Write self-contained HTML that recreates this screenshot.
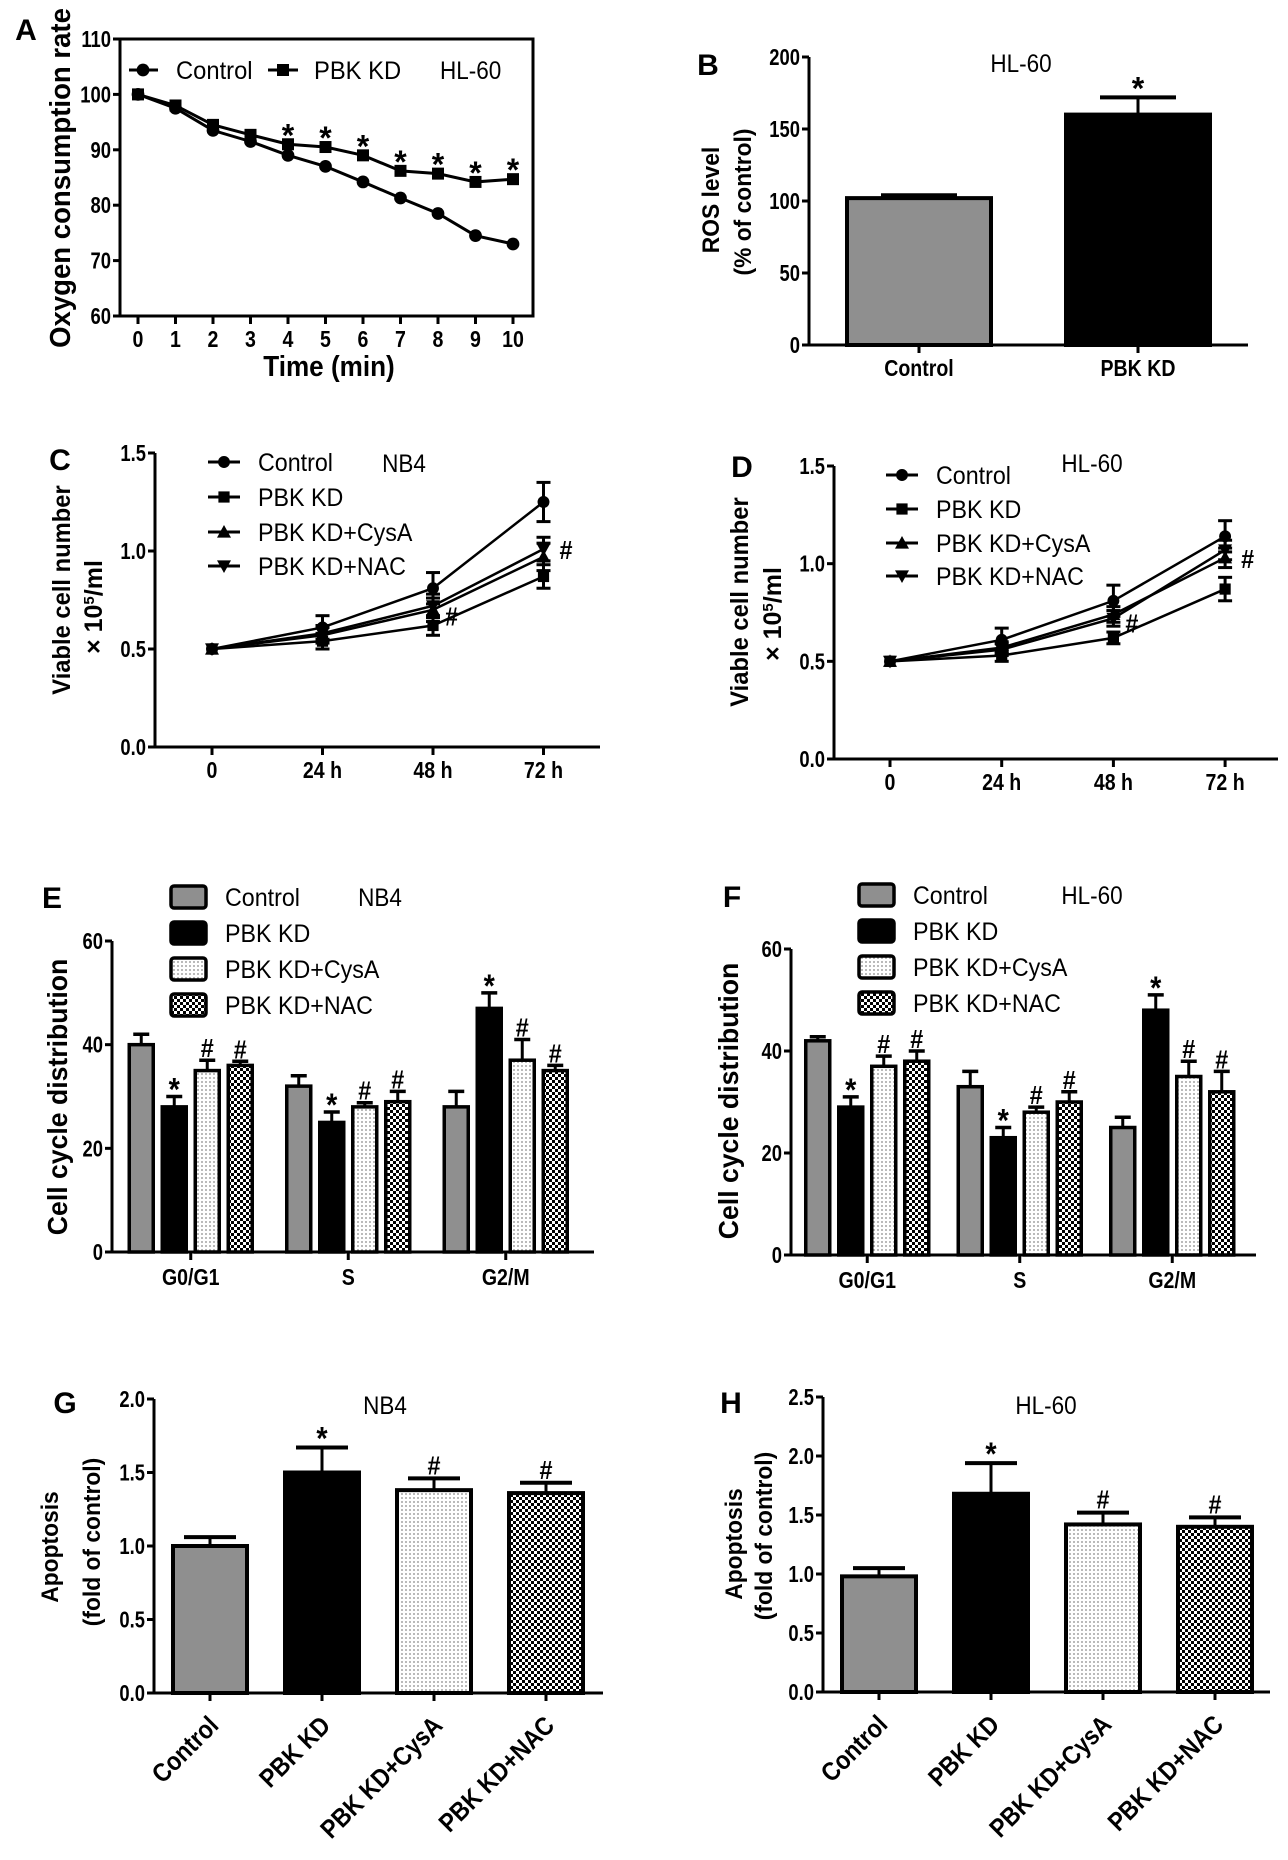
<!DOCTYPE html>
<html><head><meta charset="utf-8"><style>
html,body{margin:0;padding:0;background:#fff;}
svg{display:block;}
text{font-family:"Liberation Sans",Arial,sans-serif;}
</style></head>
<body>
<svg id="fig" width="1288" height="1860" viewBox="0 0 1288 1860" xmlns="http://www.w3.org/2000/svg">
<defs>
<pattern id="dots" width="4" height="4" patternUnits="userSpaceOnUse"><rect width="4" height="4" fill="#fff"/><circle cx="2" cy="2" r="0.9" fill="#8a8a8a"/></pattern>
<pattern id="check" width="6" height="6" patternUnits="userSpaceOnUse"><rect width="6" height="6" fill="#fff"/><rect width="3" height="3" fill="#000"/><rect x="3" y="3" width="3" height="3" fill="#000"/></pattern>
</defs>
</svg>
<script>
// ---------- Panel A data ----------
const timeA = ['0','1','2','3','4','5','6','7','8','9','10'];
const ctrlA = [100,97.5,93.5,91.5,89,87,84.2,81.3,78.5,74.5,73];
const pbkA = [100,98,94.5,92.7,91,90.5,89,86.2,85.7,84.2,84.7];
const sigA = [4,5,6,7,8,9,10];
const ticksA = [60,70,80,90,100,110];
// ---------- Panel B data ----------
const groupsB = ['Control','PBK KD'];
const rosVals = [102,160];
const rosErr = [2,12];
const ticksB = [0,50,100,150,200];
// ---------- Panels C / D data ----------
const timeCD = ['0','24 h','48 h','72 h'];
const ctrlC = [0.5,0.61,0.81,1.25];
const pbkC = [0.5,0.54,0.62,0.87];
const cysC = [0.5,0.57,0.70,0.97];
const nacC = [0.5,0.58,0.72,1.01];
const ctrlCErr = [0,0.06,0.08,0.1];
const pbkCErr = [0,0.04,0.05,0.06];
const cysCErr = [0,0.04,0.06,0.07];
const nacCErr = [0,0.04,0.06,0.06];
const ctrlD = [0.5,0.61,0.81,1.14];
const pbkD = [0.5,0.53,0.62,0.87];
const cysD = [0.5,0.57,0.74,1.03];
const nacD = [0.5,0.56,0.72,1.07];
const ctrlDErr = [0,0.06,0.08,0.08];
const pbkDErr = [0,0.03,0.03,0.06];
const cysDErr = [0,0.03,0.04,0.05];
const nacDErr = [0,0.03,0.04,0.05];
const ticksCD = ['0.0','0.5','1.0','1.5'];
const seriesNames = ['Control','PBK KD','PBK KD+CysA','PBK KD+NAC'];
// ---------- Panels E / F data ----------
const phases = ['G0/G1','S','G2/M'];
const eCtrl = [40,32,28], eCtrlErr = [2,2,3];
const ePbk = [28,25,47], ePbkErr = [2,2,3];
const eCys = [35,28,37], eCysErr = [2,0.8,4];
const eNac = [36,29,35], eNacErr = [0.8,2,1];
const fCtrl = [42,33,25], fCtrlErr = [0.8,3,2];
const fPbk = [29,23,48], fPbkErr = [2,2,3];
const fCys = [37,28,35], fCysErr = [2,1,3];
const fNac = [38,30,32], fNacErr = [2,2,4];
const ticksEF = [0,20,40,60];
// ---------- Panels G / H data ----------
const apoLabels = ['Control','PBK KD','PBK KD+CysA','PBK KD+NAC'];
const gVals = [1.0,1.5,1.38,1.36], gErr = [0.06,0.17,0.08,0.07];
const hVals = [0.98,1.68,1.42,1.40], hErr = [0.07,0.26,0.10,0.08];
const ticksG = ['0.0','0.5','1.0','1.5','2.0'];
const ticksH = ['0.0','0.5','1.0','1.5','2.0','2.5'];
const apoMarks = ['','*','#','#'];

const NS='http://www.w3.org/2000/svg';
const svg=document.getElementById('fig');
function mk(tag,attrs,parent){const e=document.createElementNS(NS,tag);for(const k in attrs)e.setAttribute(k,attrs[k]);(parent||svg).appendChild(e);return e;}
function txt(parent,x,y,s,size,weight,anchor,squeeze,rot){
  const t=mk('text',{x:x,y:y,'font-size':size,'font-weight':weight,'text-anchor':anchor},parent);
  t.textContent=s;
  if(squeeze&&squeeze!==1){const w=t.getComputedTextLength();t.setAttribute('textLength',w*squeeze);t.setAttribute('lengthAdjust','spacingAndGlyphs');}
  if(rot)t.setAttribute('transform','rotate('+rot+' '+x+' '+y+')');
  return t;
}
function lin(d0,d1,r0,r1){return v=>r0+(v-d0)/(d1-d0)*(r1-r0);}
function line(parent,x1,y1,x2,y2,w){return mk('line',{x1:x1,y1:y1,x2:x2,y2:y2,stroke:'#000','stroke-width':w||3},parent);}

function yAxis(g,x,ys,ticks,top,bottom){
  const a=line(g,x,top,x,bottom,3);
  
  
  ticks.forEach(tv=>{
    const v=parseFloat(tv), y=ys(v);
    const tk=line(g,x-7,y,x,y,3);
    
    
    const t=txt(g,x-9,y+8,String(tv),23,'bold','end',0.8);
    
    
  });
}
function xAxisLine(g,x0,x1,y){
  const a=line(g,x0,y,x1,y,3);
  
  
}
function xTick(g,x,y,label,ly){
  const tk=line(g,x,y,x,y+8,3);
  
  
  if(label!==null){
    const t=txt(g,x,ly,label,23,'bold','middle',0.85);
    
    
  }
}
function marker(g,type,x,y,s){
  let m;
  if(type==='circle')m=mk('circle',{cx:x,cy:y,r:s*0.85,fill:'#000'},g);
  else if(type==='square')m=mk('rect',{x:x-s*0.8,y:y-s*0.8,width:s*1.6,height:s*1.6,fill:'#000'},g);
  else if(type==='tri')m=mk('polygon',{points:(x-s)+','+(y+s*0.8)+' '+(x+s)+','+(y+s*0.8)+' '+x+','+(y-s),fill:'#000'},g);
  else m=mk('polygon',{points:(x-s)+','+(y-s*0.8)+' '+(x+s)+','+(y-s*0.8)+' '+x+','+(y+s),fill:'#000'},g);
  return m;
}
function panelLabel(g,x,y,s){
  const t=txt(g,x,y,s,30,'bold','middle',1);
  
  
}
function title(g,x,y,s){
  const t=txt(g,x,y,s,25,'normal','middle',0.9);
  
  
}
function yTitle(g,x,y,s,size){
  const t=txt(g,x,y,s,size,'bold','middle',0.95,-90);
  
  
  return t;
}

// ================= Panel A =================
(function(){
  const g=mk('g',{});
  
  
  const L=120,R=533,T=39,B=316;
  const xs=i=>138+i*37.5, ys=lin(60,110,B,T);
  const fr=mk('rect',{x:L,y:T,width:R-L,height:B-T,fill:'none',stroke:'#000','stroke-width':3},g);
  
  
  ticksA.forEach(v=>{const y=ys(v);const tk=line(g,L-7,y,L,y,3);
    
    
    const t=txt(g,L-9,y+8,String(v),23,'bold','end',0.8);
    
    });
  timeA.forEach((lab,i)=>xTick(g,xs(i),B,lab,347));
  [[ctrlA,'circle','series-control'],[pbkA,'square','series-pbk-kd']].forEach(([d,mt,nm])=>{
    const pl=mk('polyline',{points:d.map((v,i)=>xs(i)+','+ys(v)).join(' '),fill:'none',stroke:'#000','stroke-width':3},g);
    
    
    d.forEach((v,i)=>{const m=marker(g,mt,xs(i),ys(v),7.5);
      
      });
  });
  sigA.forEach(i=>{const t=txt(g,xs(i),ys(pbkA[i])+2,'*',32,'bold','middle',1);
    
    });
  const l1=line(g,129,70,158,70,3);
  
  
  const m1=marker(g,'circle',143,70,7.5);
  
  
  const t1=txt(g,176,79,'Control',25,'normal','start',0.95);
  
  
  const l2=line(g,268,70,298,70,3);
  
  
  const m2=marker(g,'square',283,70,7.5);
  
  
  const t2=txt(g,314,79,'PBK KD',25,'normal','start',0.95);
  
  
  const t3=txt(g,440,79,'HL-60',25,'normal','start',0.9);
  
  
  panelLabel(g,26,40,'A');
  yTitle(g,70,178,'Oxygen consumption rate',29);
  const xt=txt(g,329,376,'Time (min)',29,'bold','middle',0.9);
  
  
})();

// ================= Panel B =================
(function(){
  const g=mk('g',{});
  
  
  const X=809,T=57,B=345,R=1248;
  const ys=lin(0,200,B,T);
  const step=219, x0=X+0.5;
  const fills=['#8f8f8f','#000'];
  rosVals.forEach((v,i)=>{
    const cx=x0+(i+0.5)*step;
    const top=ys(v+rosErr[i]);
    const el=line(g,cx,ys(v),cx,top,3);
    
    
    const cap=line(g,cx-38,top,cx+38,top,4);
    
    
    const r=mk('rect',{x:cx-72,y:ys(v),width:144,height:B-ys(v),fill:fills[i],stroke:'#000','stroke-width':4},g);
    
    
    xTick(g,cx,B,groupsB[i],376);
  });
  const st=txt(g,x0+1.5*step,ys(rosVals[1]+rosErr[1])+2,'*',32,'bold','middle',1);
  
  
  yAxis(g,X,ys,ticksB,T,B);
  xAxisLine(g,X,R,B);
  title(g,1021,72,'HL-60');
  panelLabel(g,708,75,'B');
  yTitle(g,719,200,'ROS level',24);
  yTitle(g,751,202,'(% of control)',24);
})();

// ================= Panels C / D =================
function lineChart(cfg){
  const g=mk('g',{});
  
  
  const ys=lin(0,1.5,cfg.B,cfg.T);
  const xs=i=>cfg.x0+i*cfg.step;
  const types=['circle','square','tri','trid'];
  const names=['control','pbk-kd','pbk-kd-cysa','pbk-kd-nac'];
  cfg.series.forEach((d,k)=>{
    const pl=mk('polyline',{points:d.map((v,i)=>xs(i)+','+ys(v)).join(' '),fill:'none',stroke:'#000','stroke-width':2.5},g);
    
    
    d.forEach((v,i)=>{
      const e=cfg.errs[k][i];
      if(e>0){
        const eb=line(g,xs(i),ys(v-e),xs(i),ys(v+e),3);
        
        
        const c1=line(g,xs(i)-7,ys(v+e),xs(i)+7,ys(v+e),3);
        
        
        const c2=line(g,xs(i)-7,ys(v-e),xs(i)+7,ys(v-e),3);
        
        
      }
      const m=marker(g,types[k],xs(i),ys(v),7);
      
      
    });
  });
  yAxis(g,cfg.X,ys,ticksCD,cfg.T,cfg.B);
  xAxisLine(g,cfg.X,cfg.R,cfg.B);
  timeCD.forEach((lab,i)=>xTick(g,xs(i),cfg.B,lab,cfg.B+31));
  const h1=txt(g,xs(3)+16,ys(cfg.hash72)+10,'#',26,'bold','start',0.9);
  
  
  const h2=txt(g,xs(2)+12,ys(cfg.hash48)+10,'#',26,'bold','start',0.9);
  
  
  seriesNames.forEach((s,k)=>{
    const y=cfg.legY[k];
    const ll=line(g,cfg.legX,y,cfg.legX+32,y,3);
    
    
    const lm=marker(g,types[k],cfg.legX+16,y,7);
    
    
    const lt=txt(g,cfg.legX+50,y+9,s,25,'normal','start',0.93);
    
    
  });
  title(g,cfg.titleX,cfg.titleY,cfg.title);
  panelLabel(g,cfg.labX,cfg.labY,cfg.lab);
  yTitle(g,cfg.yt1x,cfg.yt1y,'Viable cell number',25);
  const t2=yTitle(g,cfg.yt2x,cfg.yt2y,'',25);
  t2.textContent='';
  const a=mk('tspan',{},t2); a.textContent='\u00d7 10';
  const b=mk('tspan',{dy:-8,'font-size':15},t2); b.textContent='5';
  const c=mk('tspan',{dy:8},t2); c.textContent='/ml';
  t2.removeAttribute('textLength');
}
lineChart({name:'panel-c',X:155,R:600,T:453,B:747,x0:212,step:110.5,
  series:[ctrlC,pbkC,cysC,nacC],errs:[ctrlCErr,pbkCErr,cysCErr,nacCErr],
  hash72:nacC[3],hash48:cysC[2]-0.03,legX:208,legY:[462,497,532,566],
  title:'NB4',titleX:404,titleY:472,lab:'C',labX:60,labY:470,
  yt1x:70,yt1y:590,yt2x:102,yt2y:607});
lineChart({name:'panel-d',X:834,R:1278,T:466,B:759,x0:890,step:111.7,
  series:[ctrlD,pbkD,cysD,nacD],errs:[ctrlDErr,pbkDErr,cysDErr,nacDErr],
  hash72:cysD[3],hash48:cysD[2]-0.04,legX:886,legY:[475,509,543,576],
  title:'HL-60',titleX:1092,titleY:472,lab:'D',labX:742,labY:477,
  yt1x:748,yt1y:602,yt2x:781,yt2y:614});

// ================= Panels E / F =================
function cycleChart(cfg){
  const g=mk('g',{});
  
  
  const ys=lin(0,60,cfg.B,cfg.T);
  const fills=['#8f8f8f','#000','url(#dots)','url(#check)'];
  const names=['control','pbk-kd','pbk-kd-cysa','pbk-kd-nac'];
  const marks=['','*','#','#'];
  phases.forEach((p,j)=>{
    const gc=cfg.X+(j+0.5)*cfg.step;
    cfg.vals.forEach((arr,k)=>{
      const v=arr[j], e=cfg.errs[k][j];
      const cx=gc+(k-1.5)*33;
      const top=ys(v+e);
      const eb=line(g,cx,ys(v),cx,top,3);
      
      
      const cap=line(g,cx-8,top,cx+8,top,3.5);
      
      
      const r=mk('rect',{x:cx-12,y:ys(v),width:24,height:cfg.B-ys(v),fill:fills[k],stroke:'#000','stroke-width':3.5},g);
      
      
      if(k>0){
        const t=txt(g,cx,k===1?top+4:top-3,marks[k],k===1?32:26,'bold','middle',0.9);
        
        
      }
    });
    xTick(g,gc,cfg.B,p,cfg.B+33);
  });
  yAxis(g,cfg.X,ys,ticksEF,cfg.T,cfg.B);
  xAxisLine(g,cfg.X,cfg.R,cfg.B);
  seriesNames.forEach((s,k)=>{
    const y=cfg.legY[k];
    const box=mk('rect',{x:cfg.legX,y:y-11,width:35,height:22,rx:3,fill:fills[k],stroke:'#000','stroke-width':3.5},g);
    
    
    const lt=txt(g,cfg.legX+54,y+9,s,25,'normal','start',0.93);
    
    
  });
  title(g,cfg.titleX,cfg.legY[0]+9,cfg.title);
  panelLabel(g,cfg.labX,cfg.labY,cfg.lab);
  yTitle(g,cfg.ytx,cfg.yty,'Cell cycle distribution',28);
}
cycleChart({name:'panel-e',X:112,R:594,T:941,B:1252,step:157.5,
  vals:[eCtrl,ePbk,eCys,eNac],errs:[eCtrlErr,ePbkErr,eCysErr,eNacErr],
  legX:171,legY:[897,933,969,1005],title:'NB4',titleX:380,lab:'E',labX:52,labY:908,ytx:67,yty:1097});
cycleChart({name:'panel-f',X:791,R:1256,T:949,B:1255,step:152.5,
  vals:[fCtrl,fPbk,fCys,fNac],errs:[fCtrlErr,fPbkErr,fCysErr,fNacErr],
  legX:859,legY:[895,931,967,1003],title:'HL-60',titleX:1092,lab:'F',labX:732,labY:907,ytx:738,yty:1101});

// ================= Panels G / H =================
function apoChart(cfg){
  const g=mk('g',{});
  
  
  const ys=lin(0,cfg.max,cfg.B,cfg.T);
  const fills=['#8f8f8f','#000','url(#dots)','url(#check)'];
  cfg.vals.forEach((v,i)=>{
    const cx=cfg.X+(i+0.5)*cfg.step;
    const top=ys(v+cfg.errs[i]);
    const eb=line(g,cx,ys(v),cx,top,3);
    
    
    const cap=line(g,cx-26,top,cx+26,top,4);
    
    
    const r=mk('rect',{x:cx-37,y:ys(v),width:74,height:cfg.B-ys(v),fill:fills[i],stroke:'#000','stroke-width':4},g);
    
    
    if(apoMarks[i]){
      const isStar=apoMarks[i]==='*';
      const t=txt(g,cx,isStar?top+2:top-4,apoMarks[i],isStar?32:26,'bold','middle',0.9);
      
      
    }
    const tk=line(g,cx,cfg.B,cx,cfg.B+8,3);
    
    
    const lx=cx+10, ly=cfg.B+34;
    const lt=txt(g,lx,ly,apoLabels[i],26,'bold','end',0.88,-45);
    
    
  });
  yAxis(g,cfg.X,ys,cfg.ticks,cfg.T,cfg.B);
  xAxisLine(g,cfg.X,cfg.R,cfg.B);
  title(g,cfg.titleX,1414,cfg.title);
  panelLabel(g,cfg.labX,1413,cfg.lab);
  yTitle(g,cfg.yt1x,cfg.yt1y,'Apoptosis',24);
  yTitle(g,cfg.yt2x,cfg.yt2y,'(fold of control)',24);
}
apoChart({name:'panel-g',X:154,R:603,T:1399,B:1693,step:112,max:2.0,ticks:ticksG,vals:gVals,errs:gErr,
  title:'NB4',titleX:385,lab:'G',labX:65,yt1x:58,yt1y:1547,yt2x:100,yt2y:1542});
apoChart({name:'panel-h',X:823,R:1270,T:1397,B:1692,step:112,max:2.5,ticks:ticksH,vals:hVals,errs:hErr,
  title:'HL-60',titleX:1046,lab:'H',labX:731,yt1x:742,yt1y:1544,yt2x:772,yt2y:1536});
</script>
</body></html>
